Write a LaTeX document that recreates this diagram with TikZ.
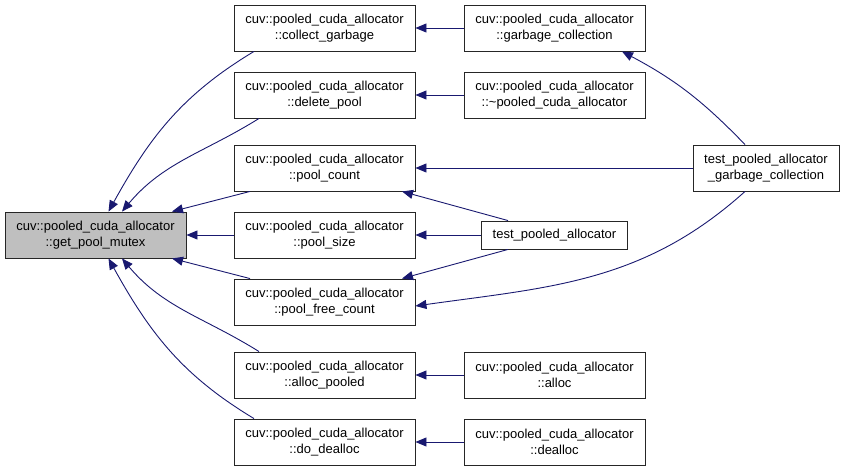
\documentclass[tikz,border=0pt]{standalone}
\usepackage{fontspec}
\setmainfont{Liberation Sans}
\usetikzlibrary{arrows.meta}
\definecolor{dedge}{HTML}{191970}
\definecolor{dgray}{HTML}{BFBFBF}
\newcommand{\cuvfn}[1]{cuv::pooled\_cuda\_allocator\\::#1}

\begin{document}
\begin{tikzpicture}[x=1pt,y=1pt,
  fn/.style={draw=black!85, fill=white, line width=0.9pt, align=center, minimum width=181pt, minimum height=46pt, inner sep=0pt, font=\fontsize{13}{16}\selectfont},
  call/.style={draw=dedge, line width=0.9pt, -{Triangle[length=11pt,width=9pt]}}]
 \useasboundingbox (0,0) rectangle (845,472);
 \node[fn, fill=dgray] (mutex) at (95.5,237) {\cuvfn{get\_pool\_mutex}};
 % callers of get_pool_mutex
 \node[fn] (collect) at (324.5,444) {\cuvfn{collect\_garbage}};
 \node[fn] (delpool) at (324.5,377) {\cuvfn{delete\_pool}};
 \node[fn] (count) at (324.5,304) {\cuvfn{pool\_count}};
 \node[fn] (size) at (324.5,237) {\cuvfn{pool\_size}};
 \node[fn] (freecount) at (324.5,170) {\cuvfn{pool\_free\_count}};
 \node[fn] (allocpooled) at (324.5,97) {\cuvfn{alloc\_pooled}};
 \node[fn] (dodealloc) at (324.5,30) {\cuvfn{do\_dealloc}};
 % next level
 \node[fn] (garbage) at (554.5,444) {\cuvfn{garbage\_collection}};
 \node[fn] (dtor) at (554.5,377) {\cuvfn{\textasciitilde pooled\_cuda\_allocator}};
 \node[fn, minimum width=146pt, minimum height=28pt] (test) at (554.5,237) {test\_pooled\_allocator};
 \node[fn] (alloc) at (554.5,97) {\cuvfn{alloc}};
 \node[fn] (dealloc) at (554.5,30) {\cuvfn{dealloc}};
 \node[fn, minimum width=146pt] (testgc) at (766,304) {test\_pooled\_allocator\\\_garbage\_collection};

 \draw[call] ([xshift=-70.5pt]collect.south) to[out=211,in=61] ([xshift=13pt]mutex.north);
 \draw[call] ([xshift=-65.5pt]delpool.south) to[out=212,in=50] ([xshift=26.5pt]mutex.north);
 \draw[call] ([xshift=-74.5pt]count.south) -- ([xshift=76.5pt]mutex.north);
 \draw[call] (size.west) -- (mutex.east);
 \draw[call] ([xshift=-74.5pt]freecount.north) -- ([xshift=76.5pt]mutex.south);
 \draw[call] ([xshift=-65.5pt]allocpooled.north) to[out=148,in=-50] ([xshift=26.5pt]mutex.south);
 \draw[call] ([xshift=-70.5pt]dodealloc.north) to[out=149,in=-61] ([xshift=13pt]mutex.south);

 \draw[call] (garbage.west) -- (collect.east);
 \draw[call] (dtor.west) -- (delpool.east);
 \draw[call] (alloc.west) -- (allocpooled.east);
 \draw[call] (dealloc.west) -- (dodealloc.east);

 \draw[call] ([xshift=-46.5pt]test.north) -- ([xshift=77.5pt]count.south);
 \draw[call] (test.west) -- (size.east);
 \draw[call] ([xshift=-46.5pt]test.south) -- ([xshift=77.5pt]freecount.north);

 \draw[call] ([xshift=-21pt]testgc.north) to[out=134,in=-28] ([xshift=67.5pt]garbage.south);
 \draw[call] (testgc.west) -- (count.east);
 \draw[call] ([xshift=-21pt]testgc.south) to[out=222,in=8] ([yshift=-4pt]freecount.east);
\end{tikzpicture}
\end{document}
